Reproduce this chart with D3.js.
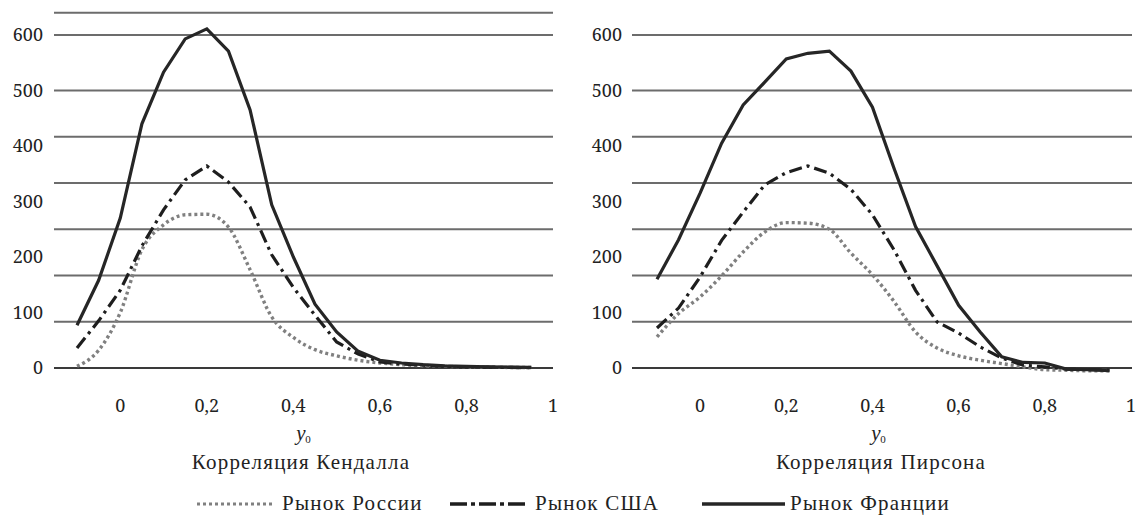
<!DOCTYPE html>
<html>
<head>
<meta charset="utf-8">
<script src="https://cdn.jsdelivr.net/npm/d3@7"></script>
</head>
<body style="margin:0">
<svg id="chart" width="1139" height="525" style="font-family: &quot;Liberation Serif&quot;"></svg>
<script>
// ---- data ----
const xValues = [-0.1, -0.05, 0, 0.05, 0.1, 0.15, 0.2, 0.25, 0.3, 0.35, 0.4, 0.45, 0.5, 0.55, 0.6, 0.65, 0.7, 0.75, 0.8, 0.85, 0.9, 0.95];

const kendallRussia = [3, 32, 100, 213, 258, 276, 277, 254, 177, 92, 55, 33, 22, 14, 9, 6, 4, 3, 2, 1.5, 1, 1];
const kendallUSA    = [36, 85, 140, 220, 285, 339, 364, 335, 290, 204, 145, 95, 47, 25, 11, 7, 5, 3, 2, 1.5, 1, 0.5];
const kendallFrance = [77, 158, 270, 440, 533, 593, 611, 571, 465, 294, 200, 115, 65, 30, 14, 9, 6, 4, 3, 2, 1.5, 1];

const pearsonRussia = [56, 98, 128, 166, 209, 245, 262, 261, 250, 207, 168, 120, 65, 36, 22, 14, 8, 2, -3, -4, -5, -5];
const pearsonUSA    = [72, 108, 164, 230, 281, 330, 352, 364, 351, 322, 276, 213, 140, 83, 63, 38, 18, 5, 2, -2, -3, -4];
const pearsonFrance = [160, 231, 315, 405, 474, 515, 557, 567, 571, 535, 470, 360, 255, 184, 113, 65, 20, 10, 9, -2, -3, -5];

const yTicks = [0, 100, 200, 300, 400, 500, 600];
const xTicks = [0, 0.2, 0.4, 0.6, 0.8, 1];
const gridLeft  = [0, 83.3, 166.7, 250, 333.3, 416.7, 500, 600, 640];
const gridRight = [0, 83.3, 166.7, 250, 333.3, 416.7, 500, 600];

const panelTitles = ["Корреляция Кендалла", "Корреляция Пирсона"];
const seriesNames = ["Рынок России", "Рынок США", "Рынок Франции"];

// ---- drawing ----
const svg = d3.select("#chart");
svg.append("rect").attr("width", 1139).attr("height", 525).attr("fill", "#fff");

const styles = [
  { stroke: "#808080", width: 3.4, dash: "3,3", curve: d3.curveMonotoneX },
  { stroke: "#1e1e1e", width: 3.2, dash: "13,5,3,5", curve: d3.curveLinear },
  { stroke: "#262626", width: 3.2, dash: null, curve: d3.curveLinear }
];

const panels = [
  { series: [kendallRussia, kendallUSA, kendallFrance], grid: gridLeft,
    gx: [54, 553], xr: [77, 553], yLabelX: 43, title: panelTitles[0], cx: 301, y0x: 303 },
  { series: [pearsonRussia, pearsonUSA, pearsonFrance], grid: gridRight,
    gx: [632, 1132], xr: [657, 1131], yLabelX: 622, title: panelTitles[1], cx: 881, y0x: 878 }
];

const numFont = '"Noto Serif"';
const txtFont = '"Liberation Serif"';
const y = d3.scaleLinear().domain([0, 600]).range([368, 35]);
const fmt = d => d === 0 ? "0" : (d === 1 ? "1" : String(d).replace(".", ","));

function addText(parent, x, yy, str, fam, size, anchor) {
  return parent.append("text").attr("x", x).attr("y", yy)
    .attr("text-anchor", anchor)
    .style("font-family", fam).style("font-size", size + "px")
    .attr("fill", "#222").text(str);
}

panels.forEach(p => {
  const x = d3.scaleLinear().domain([-0.1, 1]).range(p.xr);
  const g = svg.append("g");

  // gridlines
  g.selectAll("line.grid").data(p.grid).join("line")
    .attr("class", "grid")
    .attr("x1", p.gx[0]).attr("x2", p.gx[1])
    .attr("y1", d => y(d)).attr("y2", d => y(d))
    .attr("stroke", d => d === 0 ? "#3a3a3a" : "#6c6c6c")
    .attr("stroke-width", 2);

  // y tick labels (positions from the scale)
  yTicks.forEach(v => addText(g, p.yLabelX, y(v) + 6, String(v), numFont, 18, "end"));

  // x tick labels (positions from the scale)
  xTicks.forEach(v => addText(g, x(v), 412, fmt(v), numFont, 18, "middle"));

  // series lines
  p.series.forEach((vals, i) => {
    const st = styles[i];
    const line = d3.line().x((d, k) => x(xValues[k])).y(d => y(d)).curve(st.curve);
    g.append("path").datum(vals)
      .attr("d", line)
      .attr("fill", "none")
      .attr("stroke", st.stroke)
      .attr("stroke-width", st.width)
      .attr("stroke-dasharray", st.dash)
      .attr("stroke-linejoin", "miter");
  });

  // axis variable label y0
  addText(g, p.y0x - 2, 440, "y", txtFont, 21, "middle").style("font-style", "italic");
  addText(g, p.y0x + 5, 443, "0", txtFont, 11, "middle");

  // panel title
  addText(g, p.cx, 469, p.title, txtFont, 21, "middle").style("letter-spacing", "1.2px");
});

// legend
const legendItems = [
  { x1: 197, x2: 273, tx: 282, dash: "3,3", width: 3, stroke: "#808080" },
  { x1: 450, x2: 528, tx: 535, dash: "17,4,4,4", width: 3.6, stroke: "#1e1e1e" },
  { x1: 702, x2: 785, tx: 790, dash: null, width: 3.6, stroke: "#262626" }
];
const lg = svg.append("g");
legendItems.forEach((it, i) => {
  lg.append("line").attr("x1", it.x1).attr("x2", it.x2).attr("y1", 504).attr("y2", 504)
    .attr("stroke", it.stroke).attr("stroke-width", it.width).attr("stroke-dasharray", it.dash);
  addText(lg, it.tx, 510, seriesNames[i], txtFont, 21, "start").style("letter-spacing", "1.2px");
});
</script>
</body>
</html>
